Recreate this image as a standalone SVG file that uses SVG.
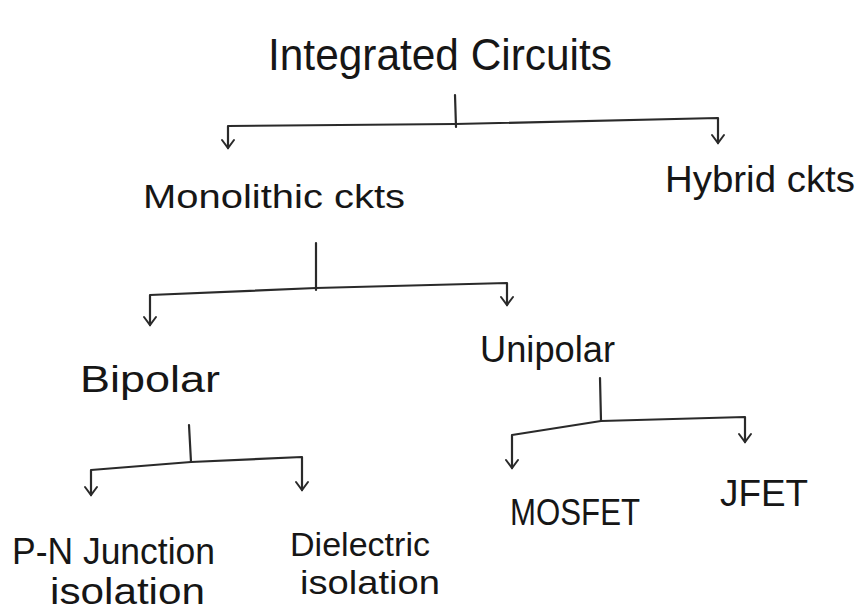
<svg xmlns="http://www.w3.org/2000/svg" width="857" height="615" viewBox="0 0 857 615">
  <style>
    .lbl { font-family: "Liberation Sans", "DejaVu Sans", sans-serif; fill: #161616; }
    .wire { fill: none; stroke: #2a2a2a; stroke-width: 2.2; stroke-linecap: round; stroke-linejoin: round; }
  </style>
  <defs>
    <marker id="vee" viewBox="-10 -8 12 16" markerWidth="12" markerHeight="16" refX="0" refY="0" orient="auto-start-reverse" markerUnits="userSpaceOnUse">
      <path d="M-8,-6 L0,0 L-8,6" fill="none" stroke="#2a2a2a" stroke-width="2" stroke-linecap="round"/>
    </marker>
  </defs>
  <rect width="857" height="615" fill="#ffffff"/>

  <g id="connectors">
    <!-- Integrated Circuits split -->
    <path class="wire" d="M455,95 L456,127"/>
    <path class="wire" d="M228,148 L228,126 L455,124 L718,118 L718,143" marker-end="url(#vee)" marker-start="url(#vee)"/>
    <!-- Monolithic split -->
    <path class="wire" d="M316,243 L316,290"/>
    <path class="wire" d="M150,325 L150,295 L316,288 L507,283 L507,305" marker-end="url(#vee)" marker-start="url(#vee)"/>
    <!-- Bipolar split -->
    <path class="wire" d="M189,425 L191,462"/>
    <path class="wire" d="M91,495 L91,470 L191,462 L302,457 L302,490" marker-end="url(#vee)" marker-start="url(#vee)"/>
    <!-- Unipolar split -->
    <path class="wire" d="M600,378 L601,421"/>
    <path class="wire" d="M512,468 L512,435 L601,421 L745,417 L745,442" marker-end="url(#vee)" marker-start="url(#vee)"/>
  </g>

  <g id="integrated-circuits">
    <text class="lbl" x="268" y="70" font-size="44" textLength="344" lengthAdjust="spacingAndGlyphs">Integrated Circuits</text>
  </g>
  <g id="monolithic">
    <text class="lbl" x="143" y="208" font-size="34" textLength="262" lengthAdjust="spacingAndGlyphs">Monolithic ckts</text>
  </g>
  <g id="hybrid">
    <text class="lbl" x="665" y="192" font-size="36" textLength="190" lengthAdjust="spacingAndGlyphs">Hybrid ckts</text>
  </g>
  <g id="bipolar">
    <text class="lbl" x="80" y="392" font-size="36" textLength="140" lengthAdjust="spacingAndGlyphs">Bipolar</text>
  </g>
  <g id="unipolar">
    <text class="lbl" x="480" y="362" font-size="36" textLength="135" lengthAdjust="spacingAndGlyphs">Unipolar</text>
  </g>
  <g id="pn-junction">
    <text class="lbl" x="12" y="564" font-size="36" textLength="203" lengthAdjust="spacingAndGlyphs">P-N Junction</text>
    <text class="lbl" x="50" y="604" font-size="36" textLength="155" lengthAdjust="spacingAndGlyphs">isolation</text>
  </g>
  <g id="dielectric">
    <text class="lbl" x="290" y="556" font-size="34" textLength="140" lengthAdjust="spacingAndGlyphs">Dielectric</text>
    <text class="lbl" x="300" y="594" font-size="34" textLength="140" lengthAdjust="spacingAndGlyphs">isolation</text>
  </g>
  <g id="mosfet">
    <text class="lbl" x="510" y="525" font-size="36" textLength="130" lengthAdjust="spacingAndGlyphs">MOSFET</text>
  </g>
  <g id="jfet">
    <text class="lbl" x="720" y="506" font-size="36" textLength="88" lengthAdjust="spacingAndGlyphs">JFET</text>
  </g>
</svg>
